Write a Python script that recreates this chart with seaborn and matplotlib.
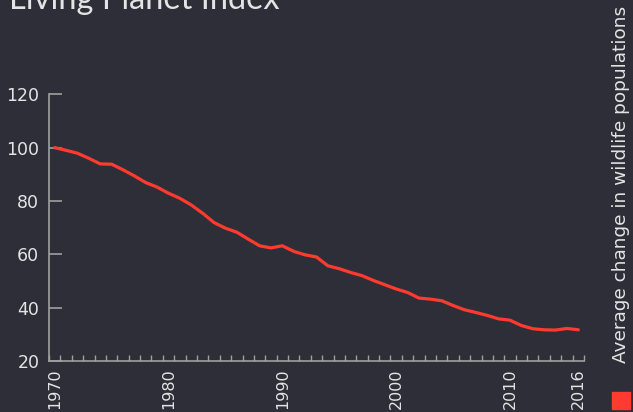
import numpy as np
import pandas as pd
import matplotlib
matplotlib.use("Agg")
import matplotlib.pyplot as plt
import seaborn as sns

# Living Planet Index, 1970 = 100
years = list(range(1970, 2017))
index_values = [100.0, 99.0, 97.9, 96.0, 93.9, 93.8, 91.7, 89.4, 86.9, 85.2,
                82.9, 81.0, 78.5, 75.4, 71.9, 69.8, 68.3, 65.7, 63.2, 62.4,
                63.2, 61.1, 59.8, 59.0, 55.7, 54.6, 53.2, 52.0, 50.2, 48.6,
                47.0, 45.7, 43.6, 43.2, 42.6, 40.8, 39.2, 38.2, 37.1, 35.8,
                35.3, 33.3, 32.1, 31.7, 31.6, 32.2, 31.7]
label_years = [1970, 1980, 1990, 2000, 2010, 2016]
y_ticks = [20, 40, 60, 80, 100, 120]
series_name = "Average change in wildlife populations"

bg = "#2e2e38"
fg = "#e4e4e4"
axis_col = "#a0a0a0"
red = "#ff3b30"

sns.set_theme(style="ticks", rc={
    "figure.facecolor": bg, "axes.facecolor": bg,
    "axes.edgecolor": axis_col, "text.color": fg,
    "xtick.color": axis_col, "ytick.color": axis_col,
    "xtick.labelcolor": fg, "ytick.labelcolor": fg,
})
plt.rcParams["font.family"] = ["DejaVu Sans"]

df = pd.DataFrame({"year": years, "lpi": index_values})

fig = plt.figure(figsize=(6.33, 4.12), dpi=100)
ax = fig.add_axes([49 / 633, 51 / 412, 535 / 633, 266.7 / 412])
sns.lineplot(data=df, x="year", y="lpi", color=red, linewidth=2.3, ax=ax)

ax.set_xlim(1969.5, 2016.5)
ax.set_ylim(20, 120)
ax.set_xlabel("")
ax.set_ylabel("")
sns.despine(ax=ax, top=True, right=True)
ax.spines["left"].set_linewidth(1.2)
ax.spines["bottom"].set_linewidth(1.2)

ax.set_xticks(label_years)
ax.set_xticklabels([str(y) for y in label_years], rotation=90, fontsize=11.5)
ax.tick_params(axis="x", which="major", length=0, pad=5.5)
ax.set_xticks(np.arange(1969.5, 2017), minor=True)
ax.tick_params(axis="x", which="minor", direction="in", length=4, width=1)

ax.set_yticks(y_ticks)
ax.set_yticklabels([str(v) for v in y_ticks], fontsize=12.5)
ax.tick_params(axis="y", direction="in", length=9.5, width=1.2, pad=7)

fig.text(9 / 633, 1 - 9 / 412, "Living Planet Index", fontsize=23.5,
         color=fg, ha="left", va="baseline", family=["Lato", "DejaVu Sans"])

# legend on the right side, rotated
fig.patches.append(plt.Rectangle((612 / 633, 3 / 412), 18 / 633, 17 / 412,
                                 transform=fig.transFigure, color=red,
                                 figure=fig))
fig.text(621 / 633, 49 / 412, series_name, rotation=90, fontsize=13.3,
         color=fg, ha="center", va="bottom")

fig.savefig("out.png", dpi=100, facecolor=bg)
